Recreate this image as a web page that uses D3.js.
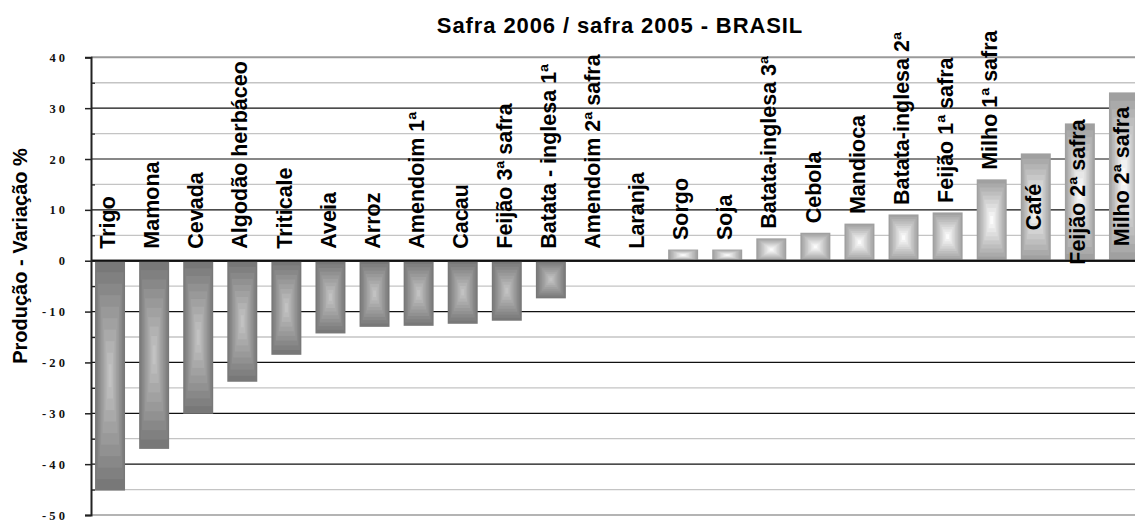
<!DOCTYPE html>
<html>
<head>
<meta charset="utf-8">
<script src="https://cdn.jsdelivr.net/npm/d3@7"></script>
<style>
  body { margin: 0; background: #fff; }
  svg { display: block; }
</style>
</head>
<body>
<svg id="chart"></svg>
<script>
// data
const categories = [
    "Trigo", "Mamona", "Cevada", "Algodão herbáceo", "Triticale", "Aveia", "Arroz",
    "Amendoim 1ª", "Cacau", "Feijão 3ª safra", "Batata - inglesa 1ª", "Amendoim 2ª safra",
    "Laranja", "Sorgo", "Soja", "Batata-inglesa 3ª", "Cebola", "Mandioca",
    "Batata-inglesa 2ª", "Feijão 1ª safra", "Milho 1ª safra", "Café", "Feijão 2ª safra",
    "Milho 2ª safra"
];
const values = [
    -45.2, -37.0, -30.1, -23.8, -18.5, -14.3, -13.0,
    -12.8, -12.4, -11.8, -7.4, 0,
    0, 2.2, 2.2, 4.4, 5.5, 7.3,
    9.1, 9.5, 16.0, 21.1, 27.0,
    33.1
];
const majorTicks = [-50, -40, -30, -20, -10, 0, 10, 20, 30, 40];
const minorTicks = [-45, -35, -25, -15, -5, 5, 15, 25, 35];
const chartTitle = "Safra 2006 / safra 2005 - BRASIL";
const yTitle = "Produção - Variação %";

// layout
const width = 1135;
const height = 522;
const axisX = 91;

const svg = d3.select('#chart')
    .attr('width', width)
    .attr('height', height);

svg.append('rect')
    .attr('width', width)
    .attr('height', height)
    .attr('fill', '#fff');

const data = categories.map((c, i) => ({ name: c, value: values[i] }));

// scales
const x = d3.scaleBand()
    .domain(categories)
    .range([88, 1146])
    .paddingInner(0.32)
    .paddingOuter(0.16);

const y = d3.scaleLinear()
    .domain([-50, 40])
    .range([515, 57.3]);

// gridlines
const grid = svg.append('g');
grid.selectAll('line.minor')
    .data(minorTicks)
    .enter()
    .append('line')
    .attr('x1', axisX).attr('x2', width)
    .attr('y1', d => y(d)).attr('y2', d => y(d))
    .attr('stroke', '#c4c4c4')
    .attr('stroke-width', 1.3);
grid.selectAll('line.major')
    .data(majorTicks)
    .enter()
    .append('line')
    .attr('x1', axisX).attr('x2', width)
    .attr('y1', d => y(d)).attr('y2', d => y(d))
    .attr('stroke', d => (d === 40 ? '#9a9a9a' : d === -50 ? '#b4b4b4' : '#111'))
    .attr('stroke-width', d => (d === 0 || d === 40 || d === -50 ? 2 : 1.2));

// bars: stepped rectangular gradient from the edge to the centre
const steps = 10;
const bars = svg.append('g');
data.forEach(function(d) {
    if (d.value === 0) return;
    const x0 = x(d.name);
    const w = x.bandwidth();
    const y0 = Math.min(y(d.value), y(0));
    const h = Math.abs(y(d.value) - y(0));
    const col = d.value < 0
        ? d3.interpolateRgb('#787878', '#c2c2c2')
        : d3.interpolateRgb('#a0a0a0', '#fbfbfb');
    for (let k = 0; k < steps; k++) {
        const t = k / steps;
        bars.append('rect')
            .attr('x', x0 + t * w / 2)
            .attr('y', y0 + t * h / 2)
            .attr('width', w * (1 - t))
            .attr('height', h * (1 - t))
            .attr('fill', col(k / (steps - 1)));
    }
});

// redraw zero line over the bars
svg.append('line')
    .attr('x1', axisX).attr('x2', width)
    .attr('y1', y(0)).attr('y2', y(0))
    .attr('stroke', '#111')
    .attr('stroke-width', 2);

// y axis
const yAxis = svg.append('g')
    .attr('transform', 'translate(' + axisX + ',0)')
    .call(d3.axisLeft(y)
        .tickValues(majorTicks)
        .tickSize(6)
        .tickPadding(20)
        .tickFormat(d => String(d).split('').join(' ')));
yAxis.select('.domain')
    .attr('stroke', '#222')
    .attr('stroke-width', 2);
yAxis.selectAll('.tick line')
    .attr('stroke', '#222')
    .attr('stroke-width', 1.5);
yAxis.selectAll('text')
    .style('font-family', '"Liberation Serif", serif')
    .style('font-weight', 'bold')
    .style('font-size', '12.5px')
    .attr('fill', '#111');

svg.append('g')
    .attr('transform', 'translate(' + axisX + ',0)')
    .call(d3.axisRight(y).tickValues(minorTicks).tickSize(4).tickFormat(''))
    .call(g => g.select('.domain').remove())
    .selectAll('.tick line')
    .attr('stroke', '#222')
    .attr('stroke-width', 1.3);

// category labels
svg.append('g')
    .selectAll('text')
    .data(data)
    .enter()
    .append('text')
    .attr('transform', function(d) {
        const cx = x(d.name) + x.bandwidth() / 2;
        let ty;
        if (d.value > 20) ty = (y(d.value) + y(0)) / 2;
        else if (d.value > 0) ty = y(d.value) - 9.5;
        else ty = y(0) - 12;
        return 'translate(' + cx + ',' + ty + ') rotate(-90)';
    })
    .attr('text-anchor', d => (d.value > 20 ? 'middle' : 'start'))
    .attr('dy', '0.24em')
    .style('font-family', '"Liberation Sans", Arial, sans-serif')
    .style('font-weight', 'bold')
    .style('font-size', '21.5px')
    .attr('fill', '#000')
    .text(d => d.name);

// titles
svg.append('text')
    .attr('x', 620)
    .attr('y', 33)
    .attr('text-anchor', 'middle')
    .style('font-family', '"Liberation Sans", Arial, sans-serif')
    .style('font-weight', 'bold')
    .style('font-size', '22px')
    .style('letter-spacing', '0.9px')
    .text(chartTitle);

svg.append('text')
    .attr('transform', 'translate(27,256) rotate(-90)')
    .attr('text-anchor', 'middle')
    .style('font-family', '"Liberation Sans", Arial, sans-serif')
    .style('font-weight', 'bold')
    .style('font-size', '20px')
    .text(yTitle);
</script>
</body>
</html>
